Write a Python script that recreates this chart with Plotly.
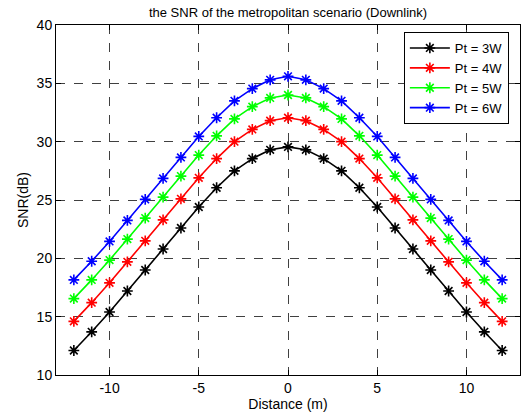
import plotly.graph_objects as go

distance = list(range(-12, 13))
half_3w = [12.1, 13.7, 15.4, 17.2, 19.0, 20.8, 22.6, 24.4, 26.05, 27.5, 28.55, 29.3, 29.55]
half_4w = [14.6, 16.2, 17.9, 19.7, 21.5, 23.3, 25.1, 26.9, 28.55, 30.0, 31.05, 31.8, 32.05]
half_5w = [16.55, 18.15, 19.85, 21.65, 23.45, 25.25, 27.05, 28.85, 30.5, 31.95, 33.0, 33.75, 34.0]
half_6w = [18.15, 19.75, 21.45, 23.25, 25.05, 26.85, 28.65, 30.45, 32.05, 33.5, 34.55, 35.3, 35.6]

snr_3w = half_3w + half_3w[-2::-1]
snr_4w = half_4w + half_4w[-2::-1]
snr_5w = half_5w + half_5w[-2::-1]
snr_6w = half_6w + half_6w[-2::-1]

series = [
    ("Pt = 3W", snr_3w, "#000000"),
    ("Pt = 4W", snr_4w, "#ff0000"),
    ("Pt = 5W", snr_5w, "#00ff00"),
    ("Pt = 6W", snr_6w, "#0000ff"),
]

x_ticks = [-10, -5, 0, 5, 10]
x_tick_labels = ["-10", "-5", "0", "5", "10"]
y_ticks = [10, 15, 20, 25, 30, 35, 40]

fig = go.Figure()
for name, vals, col in series:
    fig.add_trace(go.Scatter(
        x=distance, y=vals, name=name, mode="lines+markers",
        line=dict(color=col, width=1.6),
        marker=dict(symbol="asterisk-open", size=9, color=col,
                    line=dict(color=col, width=1.6)),
    ))

font = "Liberation Sans, Arial, Helvetica, sans-serif"
axis_common = dict(
    showline=True, linecolor="black", linewidth=1, mirror="ticks",
    ticks="inside", ticklen=5, tickcolor="black",
    showgrid=True, gridcolor="rgba(0,0,0,0.75)", griddash="dash", gridwidth=1,
    zeroline=False, tickfont=dict(family=font, size=14, color="black"),
)
fig.update_layout(
    width=523, height=417,
    margin=dict(l=56, r=3, t=25, b=42),
    paper_bgcolor="white", plot_bgcolor="white",
    font=dict(family=font, size=14, color="black"),
    title=dict(text="the SNR of the metropolitan scenario (Downlink)",
               x=(56 + 232) / 523, xanchor="center", y=1 - 12 / 417, yanchor="middle",
               font=dict(family=font, size=13, color="black")),
    xaxis=dict(range=[-13, 13], tickvals=x_ticks, ticktext=x_tick_labels,
               title=dict(text="Distance (m)", standoff=2, font=dict(size=14)),
               **axis_common),
    yaxis=dict(range=[10, 40], tickvals=y_ticks,
               title=dict(text="SNR(dB)", standoff=4, font=dict(size=14)),
               **axis_common),
    legend=dict(x=0.976, xanchor="right", y=0.98, yanchor="top",
                bgcolor="white", bordercolor="black", borderwidth=1,
                font=dict(family=font, size=13), tracegroupgap=0,
                itemwidth=40),
    showlegend=True,
)
fig.write_html("out.html", config={"displayModeBar": False},
               post_script="document.body.style.margin='0px';")
